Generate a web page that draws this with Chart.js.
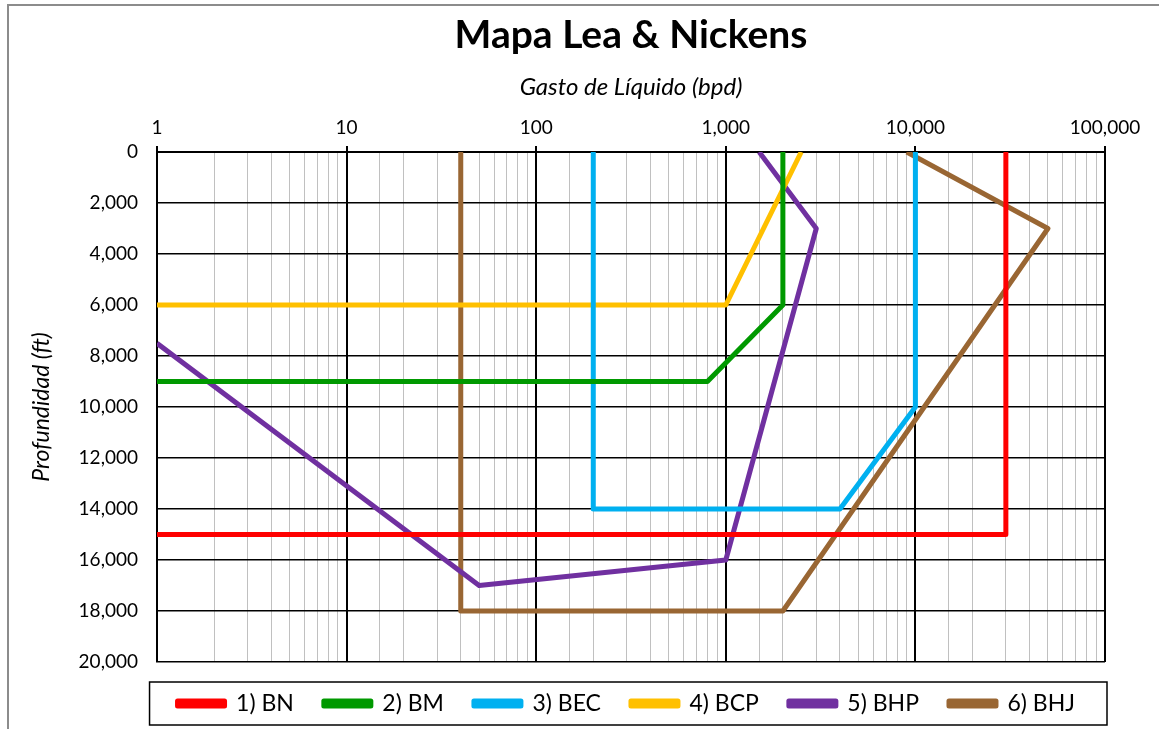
<!DOCTYPE html>
<html>
<head>
<meta charset="utf-8">
<script src="https://cdn.jsdelivr.net/npm/chart.js@4"></script>
<style>
  html, body { margin: 0; padding: 0; background: #fff; overflow: hidden; }
  #frame { position: absolute; left: 7px; top: 4px; width: 1300px; height: 900px; border: 2px solid #8c8c8c; }
  #wrap { position: absolute; left: 0; top: 0; width: 1159px; height: 729px; }
</style>
</head>
<body>
<div id="frame"></div>
<div id="wrap"><canvas id="chart" width="1159" height="729"></canvas></div>
<script>
// ====== datos (gasto en bpd, profundidad en ft) ======
const seriesNames = ["1) BN", "2) BM", "3) BEC", "4) BCP", "5) BHP", "6) BHJ"];
const seriesColors = ["#ff0000", "#009900", "#00b0f0", "#ffc000", "#7030a0", "#996633"];

const bnRate = [1, 30000, 30000];
const bnDepth = [15000, 15000, 0];

const bmRate = [1, 800, 2000, 2000];
const bmDepth = [9000, 9000, 6000, 0];

const becRate = [200, 200, 4000, 10000, 10000];
const becDepth = [0, 14000, 14000, 10000, 0];

const bcpRate = [1, 1000, 2500];
const bcpDepth = [6000, 6000, 0];

const bhpRate = [1, 50, 1000, 3000, 1500];
const bhpDepth = [7500, 17000, 16000, 3000, 0];

const bhjRate = [40, 40, 2000, 50000, 9000];
const bhjDepth = [0, 18000, 18000, 3000, 0];

const rateTicks = [1, 10, 100, 1000, 10000, 100000];
const depthTicks = [0, 2000, 4000, 6000, 8000, 10000, 12000, 14000, 16000, 18000, 20000];

const allRates = [bnRate, bmRate, becRate, bcpRate, bhpRate, bhjRate];
const allDepths = [bnDepth, bmDepth, becDepth, bcpDepth, bhpDepth, bhjDepth];

const FONT = "Lato, 'Open Sans', sans-serif";

function isDecade(v) {
  return rateTicks.includes(v);
}

const datasets = seriesNames.map((name, i) => ({
  label: name,
  data: allRates[i].map((r, k) => ({ x: r, y: allDepths[i][k] })),
  borderColor: seriesColors[i],
  backgroundColor: seriesColors[i],
  borderWidth: 5,
  borderJoinStyle: "round",
  pointRadius: 0,
  tension: 0,
  fill: false,
}));

// marco de la leyenda
const legendBox = {
  id: "legendBox",
  afterDraw(chart) {
    const lg = chart.legend;
    if (!lg || !lg.legendHitBoxes.length) return;
    const boxes = lg.legendHitBoxes;
    const left = Math.min(...boxes.map((b) => b.left)) - 28;
    const right = Math.max(...boxes.map((b) => b.left + b.width)) + 32;
    const top = Math.min(...boxes.map((b) => b.top)) - 10;
    const bottom = Math.max(...boxes.map((b) => b.top + b.height)) + 10;
    const ctx = chart.ctx;
    ctx.save();
    ctx.strokeStyle = "#000";
    ctx.lineWidth = 1.5;
    ctx.strokeRect(left, top, right - left, bottom - top);
    ctx.restore();
  },
};

new Chart(document.getElementById("chart"), {
  type: "line",
  data: { datasets },
  plugins: [legendBox],
  options: {
    responsive: false,
    animation: false,
    layout: { padding: { left: 22, right: 54, top: 0, bottom: 4 } },
    plugins: {
      title: {
        display: true,
        fullSize: false,
        text: "Mapa Lea & Nickens",
        color: "#000",
        font: { family: FONT, size: 39, weight: "bold", lineHeight: 1.2 },
        padding: { top: 12, bottom: 4 },
      },
      legend: {
        position: "bottom",
        align: "end",
        labels: {
          color: "#000",
          font: { family: FONT, size: 23 },
          boxWidth: 47,
          boxHeight: 5,
          padding: 30,
        },
      },
      tooltip: { enabled: false },
    },
    scales: {
      x: {
        type: "logarithmic",
        position: "top",
        min: 1,
        max: 100000,
        afterFit(scale) { scale.height = 152 - 62.8; },
        title: {
          display: true,
          text: "Gasto de Líquido (bpd)",
          color: "#000",
          font: { family: FONT, size: 24, style: "italic", lineHeight: 1.2 },
          padding: { top: 10, bottom: 0 },
        },
        border: { color: "#000", width: 2 },
        grid: {
          color: (c) => (c.tick && isDecade(c.tick.value) ? "#000" : "#c0c0c0"),
          lineWidth: (c) => (c.tick && isDecade(c.tick.value) ? 2 : 1),
          tickColor: (c) => (c.tick && isDecade(c.tick.value) ? "#000" : "rgba(0,0,0,0)"),
          tickLength: 6,
        },
        ticks: {
          color: "#000",
          font: { family: FONT, size: 19 },
          autoSkip: false,
          maxRotation: 0,
          padding: 7,
          callback: (v) => (isDecade(v) ? v.toLocaleString("en-US") : ""),
        },
      },
      y: {
        type: "linear",
        reverse: true,
        min: 0,
        max: 20000,
        afterFit(scale) { scale.width = 135; },
        afterBuildTicks(scale) { scale.ticks = depthTicks.map((v) => ({ value: v })); },
        title: {
          display: true,
          text: "Profundidad (ft)",
          color: "#000",
          font: { family: FONT, size: 23, style: "italic", lineHeight: 1.2 },
          padding: { top: 6, bottom: 0 },
        },
        border: { color: "#000", width: 2 },
        grid: { color: "#000", lineWidth: 1.5, drawTicks: false },
        ticks: {
          color: "#000",
          font: { family: FONT, size: 19 },
          padding: 19,
          callback: (v) => v.toLocaleString("en-US"),
        },
      },
    },
  },
});
</script>
</body>
</html>
